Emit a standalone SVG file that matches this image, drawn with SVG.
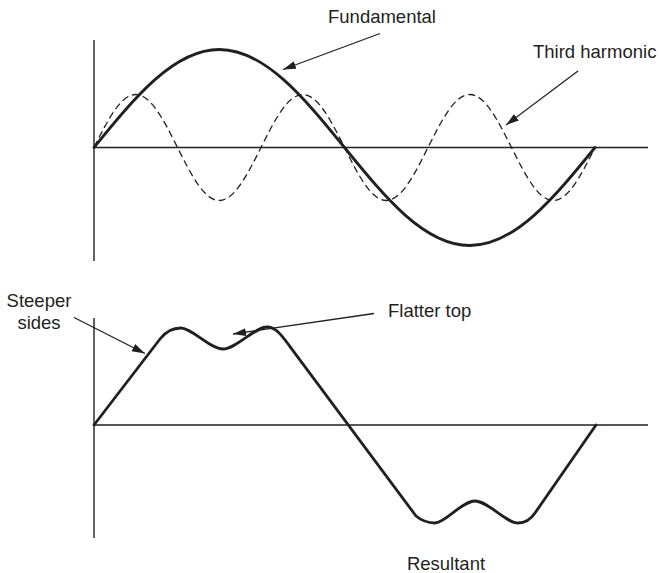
<svg xmlns="http://www.w3.org/2000/svg" width="660" height="573" viewBox="0 0 660 573">
<style>
.axis{stroke:#231f20;stroke-width:1.4;fill:none}
.wave{stroke:#231f20;stroke-width:2.8;fill:none;stroke-linejoin:round;stroke-linecap:round}
.dash{stroke:#231f20;stroke-width:1.3;fill:none;stroke-dasharray:7 4}
.lead{stroke:#231f20;stroke-width:1.3;fill:none}
.lbl{font-family:"Liberation Sans",Arial,sans-serif;font-size:18.5px;fill:#231f20}
</style>
<defs>
<marker id="ah" markerUnits="userSpaceOnUse" markerWidth="14" markerHeight="9" refX="13" refY="4" orient="auto">
<path d="M0,0 L13,4 L0,8 Z" fill="#231f20"/>
</marker>
</defs>
<g id="top-graph">
<line class="axis" x1="94" y1="40" x2="94" y2="261"/>
<line class="axis" x1="94" y1="147.5" x2="648" y2="147.5"/>
</g>
<g id="fundamental">
<path class="wave" d="M94,147.5 C134.84,97.29 173.92,49.5 219.25,49.5 C264.58,49.5 303.66,97.29 344.5,147.5 C385.34,197.71 424.42,245.5 469.75,245.5 C515.08,245.5 554.16,197.71 595,147.5"/>
<text class="lbl" x="328" y="23">Fundamental</text>
</g>
<g id="third-harmonic">
<path class="dash" d="M94,147.5 C107.61,120.35 120.64,94.5 135.75,94.5 C150.86,94.5 163.89,120.35 177.5,147.5 C191.11,174.65 204.14,200.5 219.25,200.5 C234.36,200.5 247.39,174.65 261,147.5 C274.61,120.35 287.64,94.5 302.75,94.5 C317.86,94.5 330.89,120.35 344.5,147.5 C358.11,174.65 371.14,200.5 386.25,200.5 C401.36,200.5 414.39,174.65 428,147.5 C441.61,120.35 454.64,94.5 469.75,94.5 C484.86,94.5 497.89,120.35 511.5,147.5 C525.11,174.65 538.14,200.5 553.25,200.5 C568.36,200.5 581.39,174.65 595,147.5"/>
<text class="lbl" x="533" y="58">Third harmonic</text>
</g>
<g id="bottom-graph">
<line class="axis" x1="94" y1="318" x2="94" y2="538"/>
<line class="axis" x1="94" y1="425" x2="648" y2="425"/>
</g>
<g id="resultant">
<path class="wave" d="M94,425 L160,339 C166,331.2 173,328 181,328 C192,328 210,349 223,349 C236,349 255,327 267,327 C277,327 284,338.6 290,346.6 L416,516 C422,521 428,523 435,523 C445,523 462,501 475,501 C488,501 506,523 518,523 C526,523 531,519 535,513 L596,425"/>
<text class="lbl" x="446" y="570" text-anchor="middle">Resultant</text>
</g>
<g id="steeper-label">
<text class="lbl" x="39" y="307" text-anchor="middle">Steeper</text>
<text class="lbl" x="39" y="329" text-anchor="middle">sides</text>
</g>
<g id="flatter-label">
<text class="lbl" x="388" y="316.5">Flatter top</text>
</g>
<g id="connectors">
<line class="lead" x1="380" y1="33.5" x2="283" y2="69.5" marker-end="url(#ah)"/>
<line class="lead" x1="578" y1="71" x2="506" y2="125" marker-end="url(#ah)"/>
<line class="lead" x1="74" y1="317.5" x2="145" y2="353.5" marker-end="url(#ah)"/>
<line class="lead" x1="374" y1="313.5" x2="233" y2="334" marker-end="url(#ah)"/>
</g>
</svg>
